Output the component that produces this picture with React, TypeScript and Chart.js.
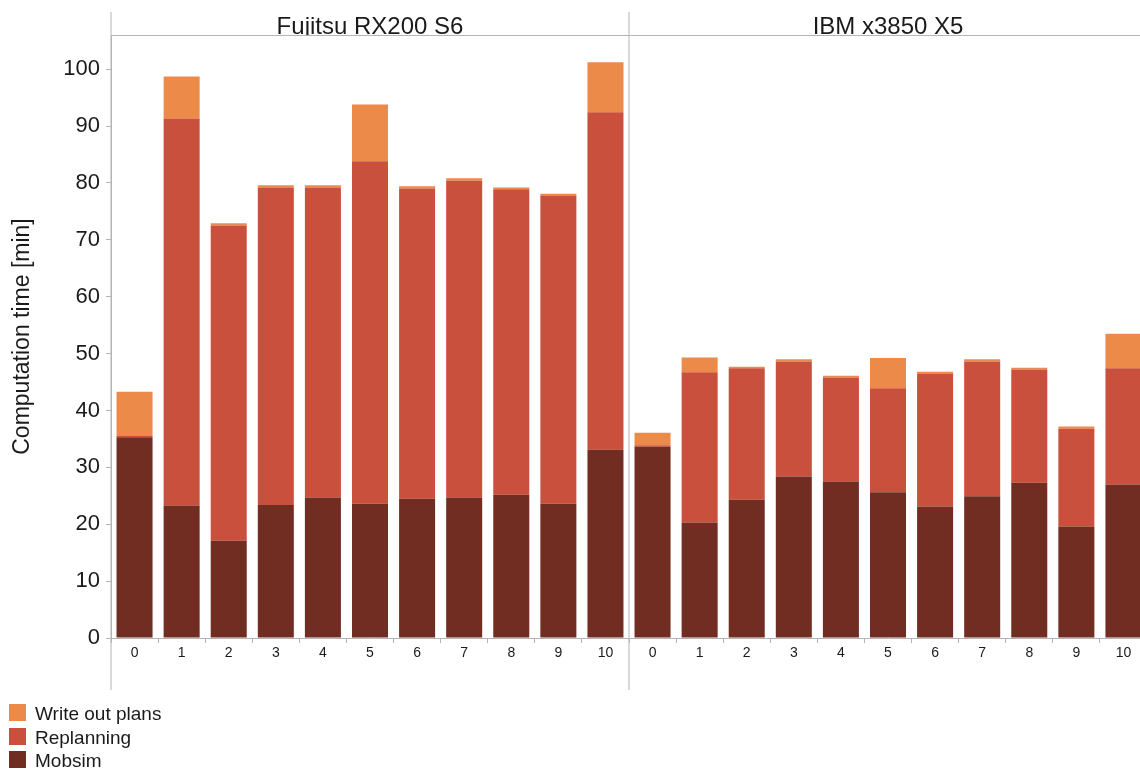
import React, { useEffect, useRef } from 'react';
import { Chart, registerables } from 'chart.js';

Chart.register(...registerables);

const groupNames = ['Fujitsu RX200 S6', 'IBM x3850 X5'];
const runLabels = ['0', '1', '2', '3', '4', '5', '6', '7', '8', '9', '10'];
const categories = [...runLabels, ...runLabels];

const mobsim = [
  35.3, 23.3, 17.1, 23.4, 24.7, 23.6, 24.5, 24.7, 25.2, 23.6, 33.1,
  33.6, 20.3, 24.3, 28.4, 27.5, 25.6, 23.1, 24.9, 27.3, 19.6, 27.0,
];
const replanning = [
  0.2, 68.0, 55.4, 55.8, 54.5, 60.2, 54.5, 55.7, 53.7, 54.2, 59.3,
  0.3, 26.4, 23.1, 20.2, 18.3, 18.3, 23.3, 23.7, 19.9, 17.2, 20.4,
];
const writeOutPlans = [
  7.8, 7.4, 0.4, 0.4, 0.4, 10.0, 0.4, 0.4, 0.3, 0.3, 8.8,
  2.2, 2.6, 0.3, 0.4, 0.3, 5.3, 0.4, 0.4, 0.3, 0.4, 6.1,
];
const yTickValues = [0, 10, 20, 30, 40, 50, 60, 70, 80, 90, 100];

const COLOR_MOBSIM = '#722d23';
const COLOR_REPLAN = '#c9503d';
const COLOR_WRITE = '#ec8a4a';
const AXIS = '#b4b4b4';
const TEXT = '#1a1a1a';
const FONT = '"Liberation Sans", Arial, Helvetica, sans-serif';

const decorations = {
  id: 'decorations',
  afterDraw(chart: any) {
    const { ctx, chartArea } = chart;
    const xs = chart.scales.x;
    const left = Math.round(chartArea.left);
    const sepX = Math.round((xs.getPixelForValue(10) + xs.getPixelForValue(11)) / 2);
    const headerY = chartArea.top;
    ctx.save();
    ctx.strokeStyle = AXIS;
    ctx.lineWidth = 1;
    ctx.beginPath();
    ctx.moveTo(left, 12);
    ctx.lineTo(left, 690);
    ctx.moveTo(sepX, 12);
    ctx.lineTo(sepX, 690);
    ctx.moveTo(left, headerY + 0.5);
    ctx.lineTo(chart.width, headerY + 0.5);
    ctx.stroke();

    // group titles (clipped at header line)
    ctx.save();
    ctx.beginPath();
    ctx.rect(0, 0, chart.width, headerY);
    ctx.clip();
    ctx.fillStyle = TEXT;
    ctx.font = `24px ${FONT}`;
    ctx.textAlign = 'center';
    ctx.textBaseline = 'alphabetic';
    const g1 = (chartArea.left + sepX) / 2;
    const g2 = (sepX + chartArea.right) / 2;
    ctx.fillText(groupNames[0], g1, headerY - 1);
    ctx.fillText(groupNames[1], g2, headerY - 1);
    ctx.restore();

    // legend (reverse order, vertical list)
    const ds = chart.data.datasets.slice().reverse();
    ctx.font = `19px ${FONT}`;
    ctx.textAlign = 'left';
    ctx.textBaseline = 'alphabetic';
    ds.forEach((d: any, i: number) => {
      const y = 704 + i * 23.5;
      ctx.fillStyle = d.backgroundColor;
      ctx.fillRect(9, Math.round(y), 17, 17);
      ctx.fillStyle = TEXT;
      ctx.fillText(d.label, 35, Math.round(y) + 16);
    });
    ctx.restore();
  },
};

export default function App() {
  const ref = useRef<HTMLCanvasElement>(null);

  useEffect(() => {
    if (!ref.current) return;
    const chart = new Chart(ref.current, {
      type: 'bar',
      data: {
        labels: categories,
        datasets: [
          { label: 'Mobsim', data: mobsim, backgroundColor: COLOR_MOBSIM },
          { label: 'Replanning', data: replanning, backgroundColor: COLOR_REPLAN },
          { label: 'Write out plans', data: writeOutPlans, backgroundColor: COLOR_WRITE },
        ],
      },
      options: {
        responsive: false,
        animation: false,
        events: [],
        layout: { padding: { left: 0, top: 35, right: 3, bottom: 79 } },
        datasets: { bar: { barPercentage: 0.765, categoryPercentage: 1 } },
        plugins: {
          legend: { display: false },
          tooltip: { enabled: false },
          title: { display: false },
        },
        scales: {
          x: {
            stacked: true,
            grid: {
              display: true,
              drawOnChartArea: false,
              drawTicks: true,
              tickLength: 5,
              offset: true,
              color: AXIS,
            },
            border: { display: true, color: AXIS },
            ticks: {
              color: TEXT,
              font: { family: FONT, size: 14 },
              padding: 2,
              maxRotation: 0,
              autoSkip: false,
            },
            afterFit: (s: any) => {
              s.height = 52;
            },
          },
          y: {
            stacked: true,
            min: 0,
            max: 106,
            grid: {
              display: true,
              drawOnChartArea: false,
              drawTicks: true,
              tickLength: 5,
              color: AXIS,
            },
            border: { display: true, color: AXIS },
            ticks: {
              color: TEXT,
              font: { family: FONT, size: 22 },
              padding: 6,
            },
            afterBuildTicks: (s: any) => {
              s.ticks = yTickValues.map((v) => ({ value: v }));
            },
            afterFit: (s: any) => {
              s.width = 111;
            },
            title: {
              display: true,
              text: 'Computation time [min]',
              color: TEXT,
              font: { family: FONT, size: 23 },
              padding: { top: 9, bottom: 0 },
            },
          },
        },
      },
      plugins: [decorations],
    });
    return () => chart.destroy();
  }, []);

  return (
    <div
      style={{
        position: 'fixed',
        left: 0,
        top: 0,
        width: 1140,
        height: 769,
        overflow: 'hidden',
        background: '#fff',
      }}
    >
      <canvas
        ref={ref}
        width={1150}
        height={769}
        style={{ display: 'block', width: 1150, height: 769 }}
      />
    </div>
  );
}
